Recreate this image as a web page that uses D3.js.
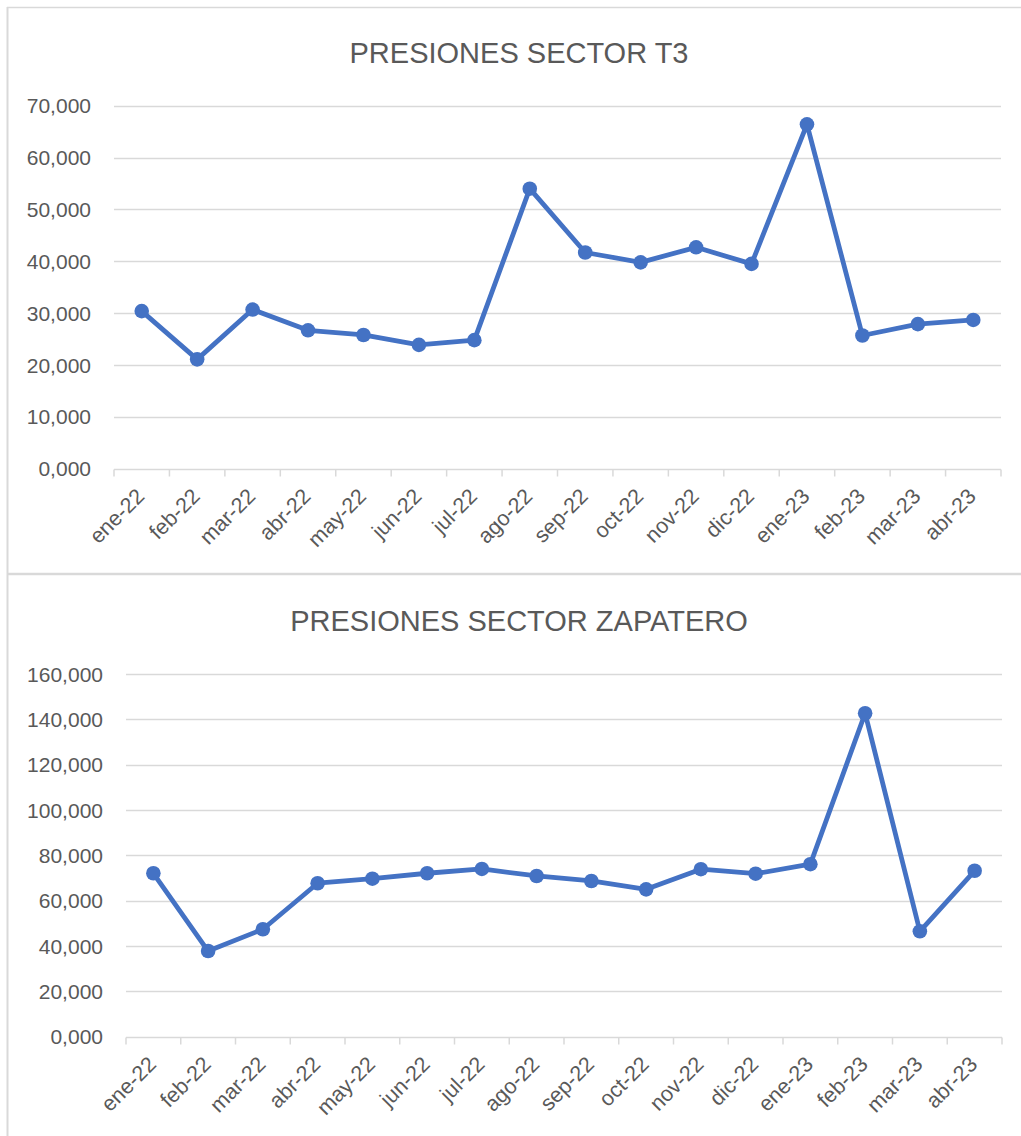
<!DOCTYPE html>
<html lang="es">
<meta charset="utf-8">
<head>
<title>Presiones sectores</title>
<style>
  body { margin: 0; background: #fff; }
  svg text { font-family: "Liberation Sans", Arial, sans-serif; fill: #595959; }
  .grid line { stroke: #d9d9d9; stroke-width: 1.3px; }
  .axis--x path, .axis--x line { stroke: #d9d9d9; stroke-width: 1.5px; }
  .line { fill: none; stroke: #4472c4; stroke-width: 4.8px; stroke-linejoin: round; }
  .dot { fill: #4472c4; }
</style>
</head>
<body>
<svg width="1021" height="1136"></svg>
<script src="https://d3js.org/d3.v7.min.js"></script>
<script>

var months = ["ene-22", "feb-22", "mar-22", "abr-22", "may-22", "jun-22", "jul-22", "ago-22",
              "sep-22", "oct-22", "nov-22", "dic-22", "ene-23", "feb-23", "mar-23", "abr-23"];

// presiones sector T3
var t3Values = [30.4, 21.1, 30.7, 26.7, 25.8, 23.9, 24.8, 54.0,
                41.7, 39.8, 42.7, 39.5, 66.4, 25.7, 27.9, 28.7];
var t3Ticks = [0, 10, 20, 30, 40, 50, 60, 70];

// presiones sector Zapatero
var zapValues = [72.1, 37.8, 47.4, 67.7, 69.7, 72.1, 74.0, 70.9,
                 68.7, 65.0, 73.9, 71.9, 76.1, 142.7, 46.5, 73.2];
var zapTicks = [0, 20, 40, 60, 80, 100, 120, 140, 160];

var svg = d3.select("svg");

// frame: left border, top border, separator between the two charts
svg.append("line").attr("x1", 7.5).attr("x2", 7.5).attr("y1", 7).attr("y2", 1136)
    .attr("stroke", "#d9d9d9").attr("stroke-width", 2);
svg.append("line").attr("x1", 7).attr("x2", 1021).attr("y1", 7.5).attr("y2", 7.5)
    .attr("stroke", "#d9d9d9").attr("stroke-width", 1.5);
svg.append("line").attr("x1", 7).attr("x2", 1021).attr("y1", 574).attr("y2", 574)
    .attr("stroke", "#d9d9d9").attr("stroke-width", 2.5);

function fmt(v) {
  // 70 -> "70,000"
  return v + ",000";
}

function drawChart(opt) {
  var g = svg.append("g");

  var x = d3.scaleBand().domain(months).range([opt.left, opt.right]);
  var y = d3.scaleLinear().domain([0, d3.max(opt.ticks)]).range([opt.bottom, opt.top]);

  g.append("text")
      .attr("x", 519)
      .attr("y", opt.titleY)
      .attr("text-anchor", "middle")
      .style("font-size", "29px")
      .text(opt.title);

  // horizontal gridlines
  g.append("g")
      .attr("class", "grid")
    .selectAll("line")
    .data(opt.ticks.filter(function(d) { return d > 0; }))
    .enter().append("line")
      .attr("x1", opt.left)
      .attr("x2", opt.right)
      .attr("y1", function(d) { return Math.round(y(d)) + 0.5; })
      .attr("y2", function(d) { return Math.round(y(d)) + 0.5; });

  // y labels
  g.append("g")
    .selectAll("text")
    .data(opt.ticks)
    .enter().append("text")
      .attr("x", opt.left - 23)
      .attr("y", function(d) { return y(d); })
      .attr("dy", "0.36em")
      .attr("text-anchor", "end")
      .style("font-size", "21px")
      .text(fmt);

  // x axis with ticks on band boundaries
  var xAxis = g.append("g")
      .attr("class", "axis axis--x")
      .attr("transform", "translate(0," + (Math.round(opt.bottom) + 0.5) + ")");

  xAxis.append("line")
      .attr("x1", opt.left).attr("x2", opt.right);

  xAxis.selectAll(".tick")
    .data(d3.range(months.length + 1))
    .enter().append("line")
      .attr("class", "tick")
      .attr("x1", function(i) { return opt.left + i * x.step(); })
      .attr("x2", function(i) { return opt.left + i * x.step(); })
      .attr("y1", 0)
      .attr("y2", 7);

  xAxis.selectAll("text")
    .data(months)
    .enter().append("text")
      .attr("text-anchor", "end")
      .style("font-size", "21.5px")
      .attr("transform", function(d) {
        return "translate(" + (x(d) + x.bandwidth() / 2 + 4) + ",28) rotate(-45)";
      })
      .text(function(d) { return d; });

  var pts = months.map(function(m, i) { return {m: m, v: opt.values[i]}; });

  var line = d3.line()
      .x(function(d) { return x(d.m) + x.bandwidth() / 2; })
      .y(function(d) { return y(d.v); });

  g.append("path")
      .datum(pts)
      .attr("class", "line")
      .attr("d", line);

  g.selectAll(".dot")
    .data(pts)
    .enter().append("circle")
      .attr("class", "dot")
      .attr("cx", function(d) { return x(d.m) + x.bandwidth() / 2; })
      .attr("cy", function(d) { return y(d.v); })
      .attr("r", 7.3);
}

drawChart({
  title: "PRESIONES SECTOR T3",
  titleY: 63,
  values: t3Values,
  ticks: t3Ticks,
  left: 114, right: 1001,
  top: 105.7, bottom: 468.8
});

drawChart({
  title: "PRESIONES SECTOR ZAPATERO",
  titleY: 631,
  values: zapValues,
  ticks: zapTicks,
  left: 126, right: 1002,
  top: 674, bottom: 1036.7
});

</script>
</body>
</html>
